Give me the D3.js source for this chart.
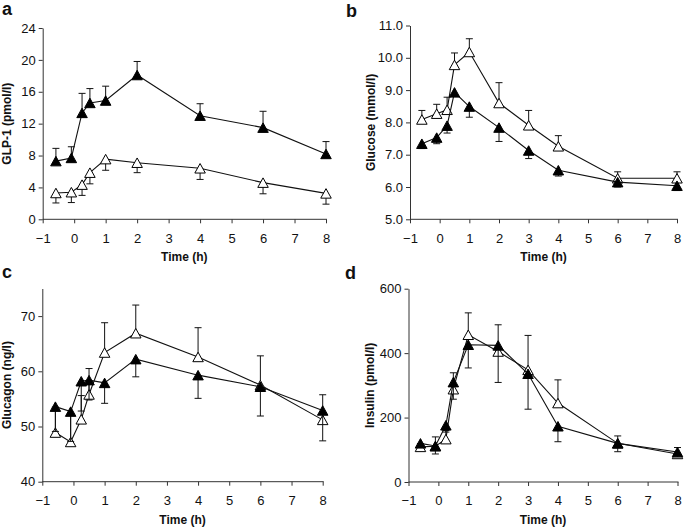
<!DOCTYPE html>
<html>
<head>
<meta charset="utf-8">
<script src="https://cdn.jsdelivr.net/npm/d3@7"></script>
<style>
  body { margin: 0; background: #fff; }
  svg { display: block; font-family: "Liberation Sans", Arial, sans-serif; }
  .axis path, .axis line { stroke: #333; }
  .axis text { fill: #111; font-size: 13px; }
  .title { font-weight: bold; font-size: 12px; fill: #111; }
  .letter { font-weight: bold; font-size: 18px; fill: #111; }
</style>
</head>
<body>
<svg id="chart" width="685" height="528"></svg>
<script>
// sampling times (h)
const timesAC = [-0.58, -0.09, 0.25, 0.5, 1, 2, 4, 6, 8];
const timesBD = [-0.6, -0.1, 0.25, 0.5, 1, 2, 3, 4, 6, 8];
const xTicks = [-1, 0, 1, 2, 3, 4, 5, 6, 7, 8];

// a: GLP-1
const glpFilled = [7.3, 7.7, 13.35, 14.6, 14.9, 18.1, 13.0, 11.5, 8.2];
const glpFilledErr = [1.6, 1.4, 2.45, 1.8, 1.8, 1.7, 1.5, 2.05, 1.55];
const glpOpen = [3.3, 3.4, 4.35, 5.85, 7.55, 7.1, 6.4, 4.6, 3.25];
const glpOpenErr = [1.25, 1.3, 1.35, 1.4, 1.4, 1.25, 1.4, 1.4, 1.35];
const glpTicks = [0, 4, 8, 12, 16, 20, 24];

// b: glucose
const gluOpen = [8.09, 8.27, 8.39, 9.78, 10.18, 8.6, 7.91, 7.26, 6.27, 6.27];
const gluOpenErr = [0.28, 0.29, 0.39, 0.37, 0.41, 0.63, 0.46, 0.33, 0.2, 0.2];
const gluFilled = [7.34, 7.53, 7.9, 8.93, 8.49, 7.84, 7.13, 6.52, 6.15, 6.04];
const gluFilledErr = [0.15, 0.19, 0.23, 0.1, 0.33, 0.43, 0.25, 0.18, 0.15, 0.15];
const gluTicks = [5, 6, 7, 8, 9, 10, 11];

// c: glucagon
const gcgOpen = [48.9, 47.2, 51.3, 55.8, 63.4, 66.9, 62.6, 57.5, 51.2];
const gcgOpenErr = [4.6, 5.0, 4.3, 4.7, 5.4, 5.1, 5.3, 5.3, 4.55];
const gcgFilled = [53.6, 52.7, 58.2, 58.4, 57.9, 62.2, 59.3, 57.2, 52.9];
const gcgFilledErr = [4.5, 5.4, 5.4, 3.6, 3.7, 3.2, 4.2, 5.3, 5.5];
const gcgTicks = [40, 50, 60, 70];

// d: insulin
const insOpen = [109, 111, 133, 288, 457, 405, 348, 245, 120, 87];
const insOpenErr = [10, 29, 27, 51, 68, 83, 107, 72, 23, 20];
const insFilled = [120, 112, 176, 310, 426, 424, 336, 173, 120, 93];
const insFilledErr = [8, 25, 21, 53, 72, 115, 110, 48, 26, 15];
const insTicks = [0, 200, 400, 600];

const svg = d3.select("#chart");

const panels = [
  { letter: "a", lx: 2, ly: 15, title: "GLP-1 (pmol/l)", tx: 11,
    x0: 42.7, x1: 326, yTop: 28, yBot: 219.3, yDomain: [0, 24], ticks: glpTicks, fmt: d3.format("d"),
    times: timesAC, open: glpOpen, openErr: glpOpenErr, filled: glpFilled, filledErr: glpFilledErr,
    openDir: -1, filledDir: 1 },
  { letter: "b", lx: 346, ly: 17, title: "Glucose (mmol/l)", tx: 375,
    x0: 410, x1: 677, yTop: 25.5, yBot: 219.3, yDomain: [5, 11], ticks: gluTicks, fmt: d3.format(".1f"),
    times: timesBD, open: gluOpen, openErr: gluOpenErr, filled: gluFilled, filledErr: gluFilledErr,
    openDir: 1, filledDir: -1 },
  { letter: "c", lx: 2, ly: 278, title: "Glucagon (ng/l)", tx: 11,
    x0: 42.3, x1: 322.7, yTop: 288.5, yBot: 481.7, yDomain: [40, 75], ticks: gcgTicks, fmt: d3.format("d"),
    times: timesAC, open: gcgOpen, openErr: gcgOpenErr, filled: gcgFilled, filledErr: gcgFilledErr,
    openDir: 1, filledDir: -1 },
  { letter: "d", lx: 345, ly: 279, title: "Insulin (pmol/l)", tx: 374,
    x0: 408.5, x1: 677.5, yTop: 288.7, yBot: 482, yDomain: [0, 600], ticks: insTicks, fmt: d3.format("d"),
    times: timesBD, open: insOpen, openErr: insOpenErr, filled: insFilled, filledErr: insFilledErr,
    openDir: 1, filledDir: -1 }
];

function triangle(w, h) {
  // triangle centred on its bounding box
  return `M0,${-h / 2}L${w / 2},${h / 2}L${-w / 2},${h / 2}Z`;
}

function drawSeries(g, x, y, times, vals, errs, dir, filled) {
  const pts = times.map((t, i) => ({ t: t, v: vals[i], e: errs[i] }));

  // error bars
  const eb = g.append("g").attr("stroke", "#111").attr("stroke-width", 1);
  pts.forEach(d => {
    const yEnd = y(d.v + dir * d.e);
    eb.append("line")
      .attr("x1", x(d.t)).attr("x2", x(d.t))
      .attr("y1", y(d.v)).attr("y2", yEnd);
    eb.append("line")
      .attr("x1", x(d.t) - 3.5).attr("x2", x(d.t) + 3.5)
      .attr("y1", yEnd).attr("y2", yEnd);
  });

  g.append("path")
    .datum(pts)
    .attr("fill", "none")
    .attr("stroke", "#111")
    .attr("stroke-width", 1.1)
    .attr("d", d3.line().x(d => x(d.t)).y(d => y(d.v)));

  g.selectAll(null)
    .data(pts)
    .enter()
    .append("path")
    .attr("transform", d => `translate(${x(d.t)},${y(d.v)})`)
    .attr("d", triangle(10.5, 9.5))
    .attr("fill", filled ? "#000" : "#fff")
    .attr("stroke", "#000")
    .attr("stroke-width", 1);
}

panels.forEach(p => {
  const x = d3.scaleLinear().domain([-1, 8]).range([p.x0, p.x1]);
  const y = d3.scaleLinear().domain(p.yDomain).range([p.yBot, p.yTop]);
  const g = svg.append("g");

  g.append("g")
    .attr("class", "axis")
    .attr("transform", `translate(0,${p.yBot})`)
    .call(d3.axisBottom(x).tickValues(xTicks).tickSize(4).tickSizeOuter(0).tickPadding(10))
    .call(a => a.select(".domain").attr("d", `M${p.x0},0H${p.x1 + 1}`));

  g.append("g")
    .attr("class", "axis")
    .attr("transform", `translate(${p.x0},0)`)
    .call(d3.axisLeft(y).tickValues(p.ticks).tickFormat(p.fmt).tickSize(4).tickSizeOuter(0).tickPadding(3));

  g.selectAll(".axis").attr("font-family", null).attr("font-size", null);

  g.append("text")
    .attr("class", "title")
    .attr("x", (p.x0 + p.x1) / 2)
    .attr("y", p.yBot + 42)
    .attr("text-anchor", "middle")
    .text("Time (h)");

  g.append("text")
    .attr("class", "title")
    .attr("transform", `translate(${p.tx},${(p.yTop + p.yBot) / 2}) rotate(-90)`)
    .attr("text-anchor", "middle")
    .text(p.title);

  g.append("text")
    .attr("class", "letter")
    .attr("x", p.lx)
    .attr("y", p.ly)
    .text(p.letter);

  drawSeries(g, x, y, p.times, p.open, p.openErr, p.openDir, false);
  drawSeries(g, x, y, p.times, p.filled, p.filledErr, p.filledDir, true);
});
</script>
</body>
</html>
